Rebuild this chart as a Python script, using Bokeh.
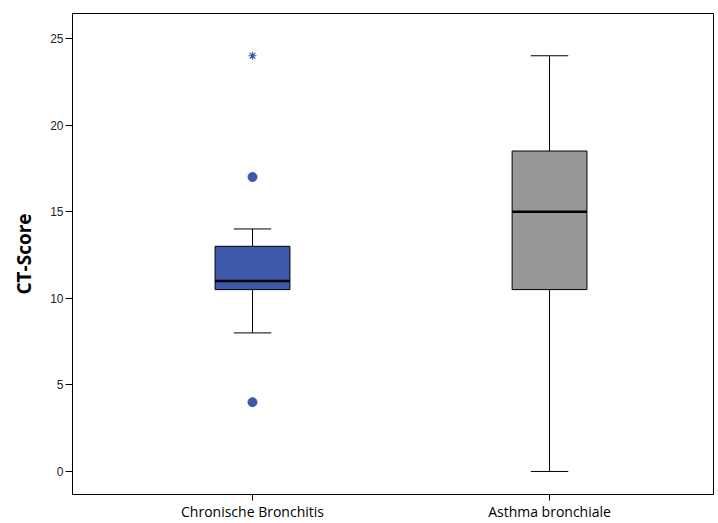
from bokeh.plotting import figure
from bokeh.models import ColumnDataSource, Range1d, FixedTicker
from bokeh.embed import file_html
from bokeh.resources import INLINE

# Box plot summary of CT scores per diagnosis group
categories = ["Chronische Bronchitis", "Asthma bronchiale"]
q1 = [10.5, 10.5]
median = [11.0, 15.0]
q3 = [13.0, 18.5]
whisker_low = [8.0, 0.0]
whisker_high = [14.0, 24.0]
fills = ["#3E58AC", "#989898"]

# outliers (circles) and extreme values (stars), by group index
outlier_group = [0, 0]
outlier_value = [17.0, 4.0]
extreme_group = [0]
extreme_value = [24.0]

xs = [i + 1 for i in range(len(categories))]
box_half = 0.126
cap_half = 0.063

p = figure(width=718, height=523, output_backend="svg", toolbar_location=None,
           x_range=Range1d(0.394, 2.552), y_range=Range1d(-1.33, 26.44),
           min_border_left=72, min_border_top=13, min_border_right=5, min_border_bottom=29)
p.grid.visible = False
p.outline_line_color = "black"
p.outline_line_width = 1
p.background_fill_color = "white"
p.border_fill_color = "white"

src = ColumnDataSource(dict(x=xs, q1=q1, med=median, q3=q3, lo=whisker_low, hi=whisker_high,
                            fill=fills,
                            cl=[x - cap_half for x in xs], cr=[x + cap_half for x in xs],
                            bl=[x - box_half for x in xs], br=[x + box_half for x in xs]))

# whiskers and caps
p.segment(x0="x", y0="q3", x1="x", y1="hi", source=src, line_color="black", line_width=1)
p.segment(x0="x", y0="q1", x1="x", y1="lo", source=src, line_color="black", line_width=1)
p.segment(x0="cl", y0="hi", x1="cr", y1="hi", source=src, line_color="black", line_width=1)
p.segment(x0="cl", y0="lo", x1="cr", y1="lo", source=src, line_color="black", line_width=1)

# boxes
p.quad(left="bl", right="br", bottom="q1", top="q3", source=src,
       fill_color="fill", line_color="black", line_width=1)
# medians
p.segment(x0="bl", y0="med", x1="br", y1="med", source=src, line_color="black", line_width=2.5)

# outliers
p.scatter([xs[g] for g in outlier_group], outlier_value, marker="circle", size=9,
          fill_color="#3E58AC", line_color="#3E58AC")
p.scatter([xs[g] for g in extreme_group], extreme_value, marker="asterisk", size=8,
          line_color="#3E58AC", line_width=1.2)

# axes
p.yaxis.ticker = FixedTicker(ticks=[0, 5, 10, 15, 20, 25])
p.yaxis.minor_tick_line_color = None
p.yaxis.major_tick_out = 7
p.yaxis.major_tick_in = 0
p.yaxis.major_label_text_font = "Liberation Sans"
p.yaxis.major_label_text_font_size = "12px"
p.yaxis.major_label_text_color = "#222222"
p.yaxis.major_label_standoff = 2
p.yaxis.axis_label = "CT-Score"
p.yaxis.axis_label_text_font = "Open Sans"
p.yaxis.axis_label_text_font_style = "bold"
p.yaxis.axis_label_text_font_size = "19px"
p.yaxis.axis_label_text_color = "black"
p.yaxis.axis_label_standoff = 10

p.xaxis.ticker = FixedTicker(ticks=xs)
p.xaxis.major_label_overrides = {x: c for x, c in zip(xs, categories)}
p.xaxis.minor_tick_line_color = None
p.xaxis.major_tick_out = 6
p.xaxis.major_tick_in = 0
p.xaxis.major_label_text_font = "Open Sans"
p.xaxis.major_label_text_font_size = "14px"
p.xaxis.major_label_text_color = "black"
p.xaxis.major_label_standoff = 1

open("out.html", "w").write(file_html(p, INLINE))
